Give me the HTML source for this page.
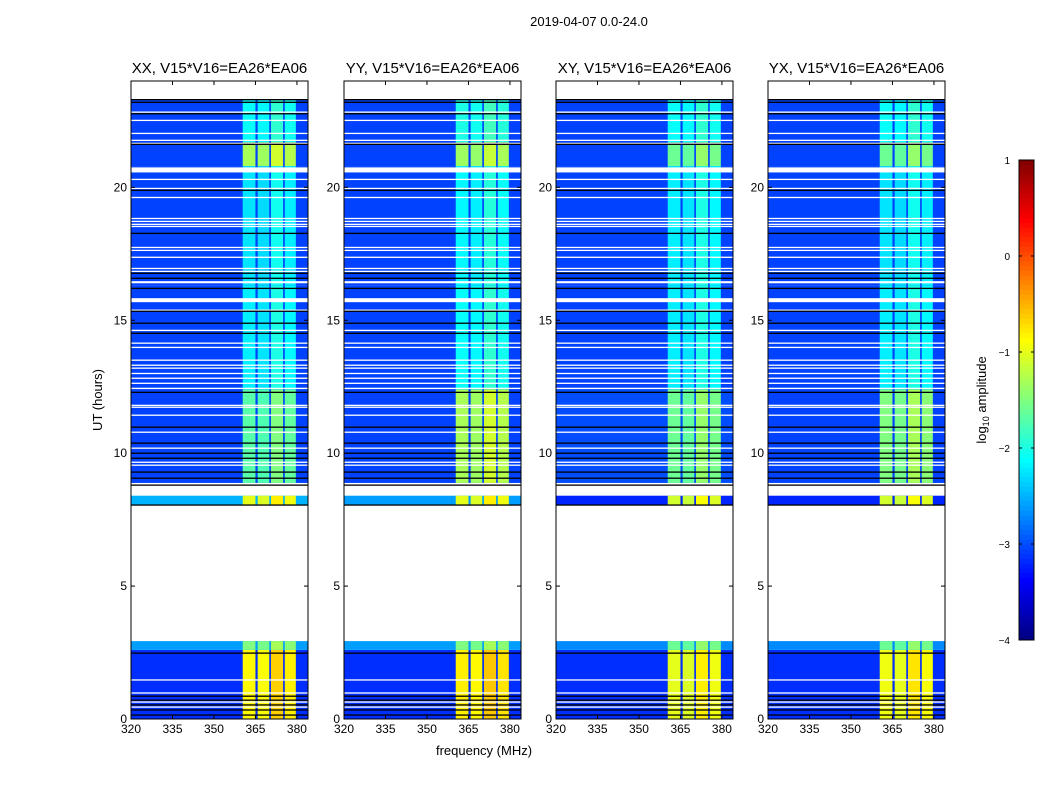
<!DOCTYPE html>
<html><head><meta charset="utf-8">
<style>
body{margin:0;background:#fff;width:1050px;height:800px;overflow:hidden;font-family:"Liberation Sans",sans-serif}
</style></head>
<body>
<svg id="fig" width="1050" height="800" xmlns="http://www.w3.org/2000/svg" font-family="Liberation Sans, sans-serif">
<rect width="1050" height="800" fill="#fff"/>
<text x="589" y="26" font-size="13" text-anchor="middle">2019-04-07 0.0-24.0</text>
<text x="484" y="755" font-size="13" text-anchor="middle">frequency (MHz)</text>
<text transform="translate(102,400) rotate(-90)" font-size="13" text-anchor="middle">UT (hours)</text>
<g id="panels"></g>
<g id="cbar"></g>
</svg>
<script>
// ---- data ----
const panelTitles = ["XX, V15*V16=EA26*EA06","YY, V15*V16=EA26*EA06","XY, V15*V16=EA26*EA06","YX, V15*V16=EA26*EA06"];
const xTicks = [320,335,350,365,380];
const yTicks = [0,5,10,15,20];
const cbTicks = [1,0,-1,-2,-3,-4];
// time segments (hours)
const segStart = [0, 2.6, 8.05, 8.88, 12.4, 16.3, 20.8, 21.7];
const segEnd   = [2.6, 2.93, 8.4, 12.4, 16.3, 20.8, 21.7, 23.3];
// background log amplitude per segment per panel
const bgP1 = [-3.15,-2.6,-2.5,-3.05,-3.05,-3.05,-3.05,-3.05];
const bgP2 = [-3.15,-2.6,-2.6,-3.05,-3.05,-3.05,-3.05,-3.05];
const bgP3 = [-3.15,-2.7,-3.2,-3.0,-3.05,-3.05,-3.05,-3.05];
const bgP4 = [-3.15,-2.7,-3.2,-3.05,-3.05,-3.05,-3.05,-3.05];
// RFI log amplitude per segment per panel
const rfiP1 = [-0.85,-1.5,-1.0,-1.7,-2.2,-2.25,-1.3,-2.1];
const rfiP2 = [-0.8,-1.5,-1.0,-1.3,-2.1,-2.15,-1.35,-2.0];
const rfiP3 = [-1.0,-1.6,-1.1,-1.6,-2.2,-2.2,-1.6,-2.1];
const rfiP4 = [-0.95,-1.6,-1.1,-1.5,-2.2,-2.25,-1.6,-2.1];
// RFI sub-band frequency edges (MHz) and offsets
const subLo = [360.4, 365.8, 370.6, 375.6];
const subHi = [365.0, 370.0, 375.0, 379.6];
const subOff = [0, -0.05, 0.2, 0.05];
// flagged rows (hours)
const whiteLines = [22.83,22.52,22.03,21.77,21.65,20.3,19.96,19.62,18.83,18.72,18.61,18.53,17.74,17.63,17.37,16.95,16.84,15.38,14.62,14.14,13.98,13.5,13.31,13.2,13.0,12.82,12.63,12.44,11.8,11.73,11.43,10.79,10.19,9.66,9.55,1.47,0.98,0.64,0.45];
const whiteBandLo = [20.56,16.39,15.68];
const whiteBandHi = [20.75,16.47,15.83];
const blackLines = [23.3,23.2,22.77,21.62,19.89,18.27,16.77,16.58,16.2,15.34,14.89,14.51,12.29,10.98,10.38,10.0,9.81,9.29,9.06,8.8,8.05,2.48,0.86,0.71,0.53,0.34,0.15];

const bgAll=[bgP1,bgP2,bgP3,bgP4], rfiAll=[rfiP1,rfiP2,rfiP3,rfiP4];
const NS="http://www.w3.org/2000/svg";
function jet(v){let t=(v+4)/5;t=Math.max(0,Math.min(1,t));
 const c=x=>Math.round(255*Math.max(0,Math.min(1,x)));
 return `rgb(${c(1.5-Math.abs(4*t-3))},${c(1.5-Math.abs(4*t-2))},${c(1.5-Math.abs(4*t-1))})`;}
function mk(tag,attrs,parent){const e=document.createElementNS(NS,tag);for(const k in attrs)e.setAttribute(k,attrs[k]);parent.appendChild(e);return e;}
const pX=[131,344,556,768], pW=177, yTop=81, yBot=719;
const fMin=320, fMax=384;
const panels=document.getElementById('panels');
for(let p=0;p<4;p++){
 const x0=pX[p];
 const xs=f=>x0+(f-fMin)/(fMax-fMin)*pW;
 const ys=h=>yBot-h/24*(yBot-yTop);
 const g=mk('g',{},panels);
 
 
 for(let s=0;s<segStart.length;s++){
  const y1=ys(segEnd[s]), y2=ys(segStart[s]);
  const r=mk('rect',{x:x0,y:y1,width:pW,height:y2-y1,fill:jet(bgAll[p][s])},g);
  
  
  for(let b=0;b<subLo.length;b++){
   const rr=mk('rect',{x:xs(subLo[b]),y:y1,width:xs(subHi[b])-xs(subLo[b]),height:y2-y1,fill:jet(rfiAll[p][s]+subOff[b])},g);
   
   
  }
 }
 for(const h of whiteLines){mk('rect',{x:x0,y:ys(h)-0.6,width:pW,height:1.3,fill:'#fff'},g);}
 for(let i=0;i<whiteBandLo.length;i++){mk('rect',{x:x0,y:ys(whiteBandHi[i]),width:pW,height:ys(whiteBandLo[i])-ys(whiteBandHi[i]),fill:'#fff'},g);}
 for(const h of blackLines){mk('rect',{x:x0,y:ys(h)-0.6,width:pW,height:1.3,fill:'#000'},g);}
 const fr=mk('rect',{x:x0,y:yTop,width:pW,height:yBot-yTop,fill:'none',stroke:'#000','stroke-width':1},g);
 
 
 const t=mk('text',{x:x0+pW/2,y:73,'font-size':15,'text-anchor':'middle'},g);t.textContent=panelTitles[p];
 
 
 for(const f of xTicks){const x=xs(f);
  mk('line',{x1:x,x2:x,y1:yBot,y2:yBot-4,stroke:'#000'},g);mk('line',{x1:x,x2:x,y1:yTop,y2:yTop+4,stroke:'#000'},g);
  const l=mk('text',{x:x,y:yBot+14,'font-size':12,'text-anchor':'middle'},g);l.textContent=f;
  
  }
 for(const h of yTicks){const y=ys(h);
  mk('line',{x1:x0,x2:x0+4,y1:y,y2:y,stroke:'#000'},g);mk('line',{x1:x0+pW,x2:x0+pW-4,y1:y,y2:y,stroke:'#000'},g);
  const l=mk('text',{x:x0-4,y:y+4,'font-size':12,'text-anchor':'end'},g);l.textContent=h;
  
  }
}
// colorbar
const cb=document.getElementById('cbar');
const cbx=1019,cbw=15,cbt=160,cbb=640;
const cys=v=>cbb-(v+4)/5*(cbb-cbt);
for(let i=0;i<100;i++){const v=-4+i*0.05;
 mk('rect',{x:cbx,y:cys(v+0.05),width:cbw,height:(cbb-cbt)/100+0.5,fill:jet(v+0.025)},cb);}
const cf=mk('rect',{x:cbx,y:cbt,width:cbw,height:cbb-cbt,fill:'none',stroke:'#000'},cb);


for(const v of cbTicks){const y=cys(v);
 mk('line',{x1:cbx,x2:cbx+3,y1:y,y2:y,stroke:'#000'},cb);mk('line',{x1:cbx+cbw,x2:cbx+cbw-3,y1:y,y2:y,stroke:'#000'},cb);
 const l=mk('text',{x:1010,y:y+4,'font-size':10,'text-anchor':'end'},cb);l.textContent=(v<0?'\u2212':'')+Math.abs(v);
 
 }
const cl=mk('text',{transform:'translate(986,400) rotate(-90)','font-size':13,'text-anchor':'middle'},cb);
cl.innerHTML='log<tspan font-size="9" dy="3">10</tspan><tspan dy="-3"> amplitude</tspan>';


</script>
</body></html>
